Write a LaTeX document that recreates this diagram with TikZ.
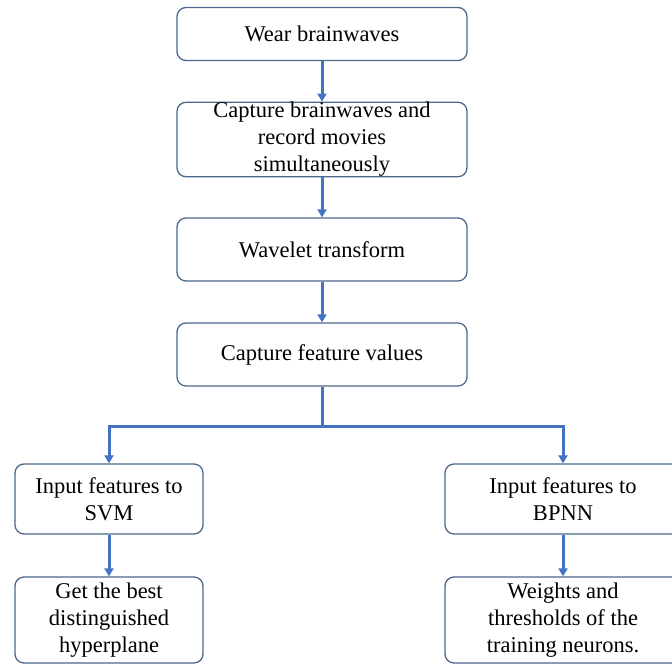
\documentclass[tikz,border=0pt]{standalone}
\usepackage{fontspec}
\setmainfont{Liberation Serif}
\usetikzlibrary{arrows.meta}

\definecolor{boxline}{RGB}{76,104,140}
\definecolor{flowblue}{RGB}{68,114,196}

\begin{document}
\begin{tikzpicture}
      [%%%%%%%%%%%%%%%%%%%%%%%%%%%%%%
      x=1pt,y=-1pt,
      stepbox/.style={rectangle,draw=boxline,line width=1.3pt,rounded corners=9pt,
        fill=white,align=center,inner sep=0pt,
        font=\fontsize{22.5}{27}\selectfont},
      flow/.style={draw=flowblue,line width=3pt,
        -{Triangle[width=9pt,length=8pt]}},
      ]%%%%%%%%%%%%%%%%%%%%%%%%%%%%%%
      
      \clip (0,0) rectangle (672,664);
      
      \node[stepbox,minimum width=290pt,minimum height=53pt] (wear) at (322,34) {Wear brainwaves};
      \node[stepbox,minimum width=290pt,minimum height=73pt] (capture) at (322,139.5)
        {Capture brainwaves and\\record movies\\simultaneously};
      \node[stepbox,minimum width=290pt,minimum height=63pt] (wavelet) at (322,249.5) {Wavelet transform};
      \node[stepbox,minimum width=290pt,minimum height=63pt] (feature) at (322,354.5) {Capture feature values};
      
      \node[stepbox,minimum width=188pt,minimum height=70pt] (svm) at (109,499) {Input features to\\SVM};
      \node[stepbox,minimum width=188pt,minimum height=86pt] (plane) at (109,620)
        {Get the best\\distinguished\\hyperplane};
      \node[stepbox,minimum width=236pt,minimum height=70pt] (bpnn) at (563,499) {Input features to\\BPNN};
      \node[stepbox,minimum width=236pt,minimum height=86pt] (neuron) at (563,620)
        {Weights and\\thresholds of the\\training neurons.};
      
      \coordinate (split) at (322,426);
      
      \draw[flow] (wear) -- (capture);
      \draw[flow] (capture) -- (wavelet);
      \draw[flow] (wavelet) -- (feature);
      \draw[flow] (feature) -- (split) -| (svm);
      \draw[flow] (split) -| (bpnn);
      \draw[flow] (svm) -- (plane);
      \draw[flow] (bpnn) -- (neuron);
    \end{tikzpicture}
\end{document}
